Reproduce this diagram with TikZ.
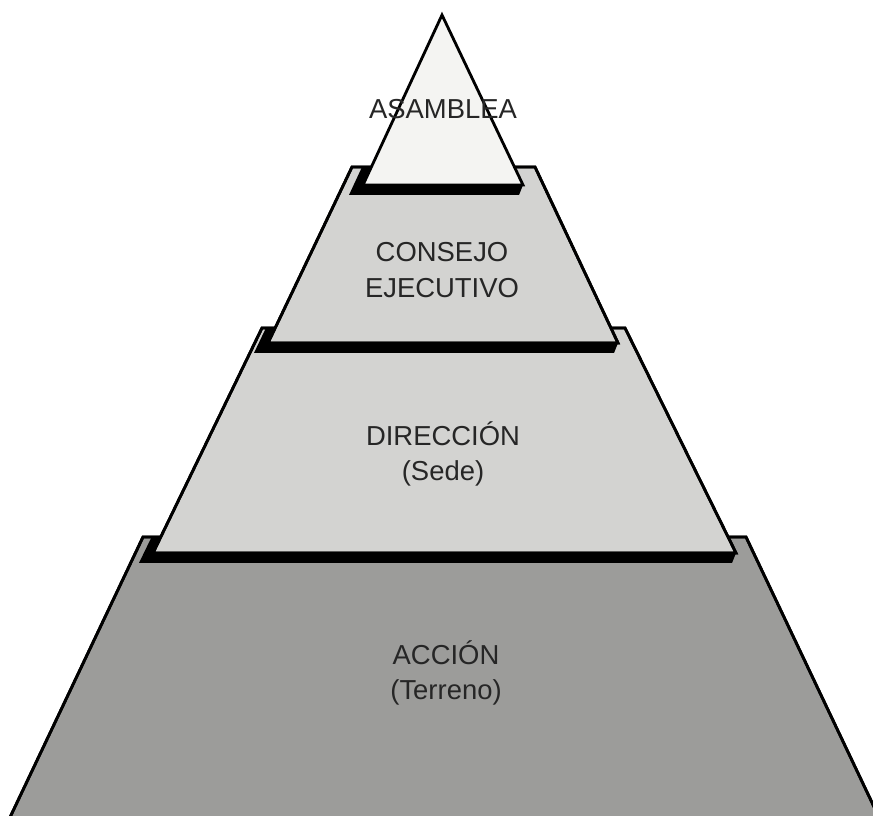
\documentclass[tikz,border=0pt]{standalone}
\usepackage{fontspec}
\setmainfont{Liberation Sans}
\usetikzlibrary{positioning}

\definecolor{paper}{HTML}{F4F4F2}
\definecolor{lightstone}{HTML}{D3D3D1}
\definecolor{darkstone}{HTML}{9C9C9A}

\begin{document}
\begin{tikzpicture}[x=0.01cm,y=-0.01cm]
\tikzstyle{tier}=[draw=black, line width=0.8pt, line join=miter]
\tikzstyle{shadow}=[fill=black]
\tikzstyle{tiername}=[font=\fontsize{7.8}{10.2}\selectfont, text=black!85, align=center]
\useasboundingbox (0,0) rectangle (873,816);
\clip (0,0) rectangle (873,816);
\fill[white] (0,0) rectangle (873,816);
% corners of the four tiers
\coordinate (apex) at (442,15);
\coordinate (t1l) at (363,185);  \coordinate (t1r) at (523,185);
\coordinate (t2a) at (352,167);  \coordinate (t2b) at (535,167);
\coordinate (t2r) at (618,343);  \coordinate (t2l) at (268,343);
\coordinate (t3a) at (262,328);  \coordinate (t3b) at (625,328);
\coordinate (t3r) at (736,553);  \coordinate (t3l) at (153,553);
\coordinate (t4a) at (143,537);  \coordinate (t4b) at (746,537);
\coordinate (t4r) at (885,830);  \coordinate (t4l) at (4,830);
% bottom tier
\draw[tier, fill=darkstone] (t4a) -- (t4b) -- (t4r) -- (t4l) -- cycle;
\begin{scope}
  \clip (t4a) -- (t4b) -- (t4r) -- (t4l) -- cycle;
  \fill[shadow] (248,338) -- (139,563) -- (732,563) -- (t3r) -- (t3b) -- cycle;
\end{scope}
\draw[tier] (t4a) -- (t4b) -- (t4r) -- (t4l) -- cycle;
% third tier
\draw[tier, fill=lightstone] (t3a) -- (t3b) -- (t3r) -- (t3l) -- cycle;
\begin{scope}
  \clip (t3a) -- (t3b) -- (t3r) -- (t3l) -- cycle;
  \fill[shadow] (338,177) -- (254,353) -- (614,353) -- (t2r) -- (t2b) -- cycle;
\end{scope}
\draw[tier] (t3a) -- (t3b) -- (t3r) -- (t3l) -- cycle;
% second tier
\draw[tier, fill=lightstone] (t2a) -- (t2b) -- (t2r) -- (t2l) -- cycle;
\begin{scope}
  \clip (t2a) -- (t2b) -- (t2r) -- (t2l) -- cycle;
  \fill[shadow] (428,25) -- (349,195) -- (519,195) -- (t1r) -- (apex) -- cycle;
\end{scope}
\draw[tier] (t2a) -- (t2b) -- (t2r) -- (t2l) -- cycle;
% top
\draw[tier, fill=paper] (apex) -- (t1r) -- (t1l) -- cycle;

\node[tiername] (asamblea) at (443,109) {ASAMBLEA};
\node[tiername] (consejo) at (442,270) {CONSEJO\\EJECUTIVO};
\node[tiername] (direccion) at (443,454) {DIRECCIÓN\\(Sede)};
\node[tiername] (accion) at (446,673) {ACCIÓN\\(Terreno)};
\end{tikzpicture}
\end{document}
